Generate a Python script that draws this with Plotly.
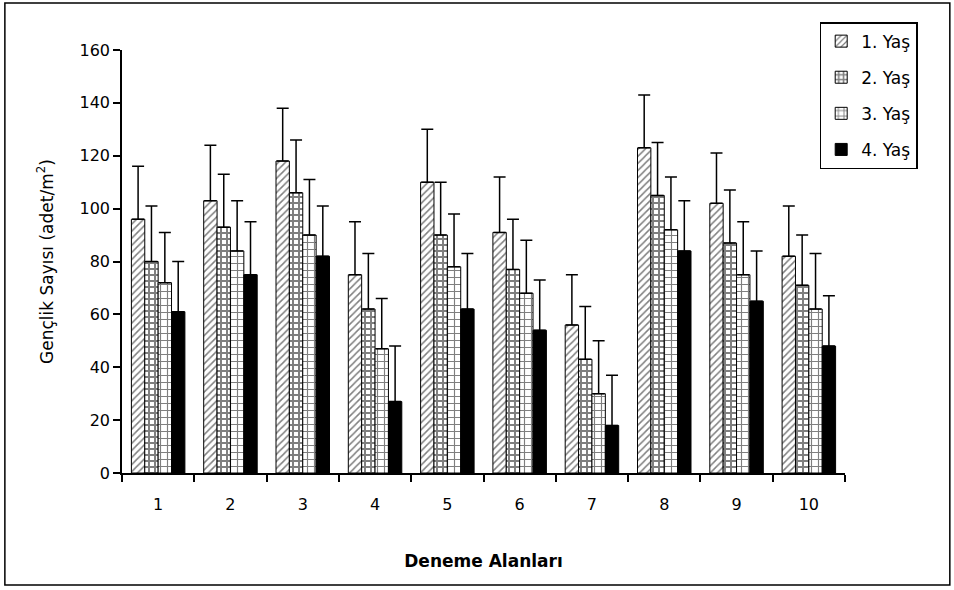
import plotly.graph_objects as go

categories = ["1", "2", "3", "4", "5", "6", "7", "8", "9", "10"]
series_names = ["1. Yaş", "2. Yaş", "3. Yaş", "4. Yaş"]
yas1 = [96, 103, 118, 75, 110, 91, 56, 123, 102, 82]
yas2 = [80, 93, 106, 62, 90, 77, 43, 105, 87, 71]
yas3 = [72, 84, 90, 47, 78, 68, 30, 92, 75, 62]
yas4 = [61, 75, 82, 27, 62, 54, 18, 84, 65, 48]
err1 = [20, 21, 20, 20, 20, 21, 19, 20, 19, 19]
err2 = [21, 20, 20, 21, 20, 19, 20, 20, 20, 19]
err3 = [19, 19, 21, 19, 20, 20, 20, 20, 20, 21]
err4 = [19, 20, 19, 21, 21, 19, 19, 19, 19, 19]
yticks = [0, 20, 40, 60, 80, 100, 120, 140, 160]

values = [yas1, yas2, yas3, yas4]
errors = [err1, err2, err3, err4]
patterns = [
    dict(shape="/", fgcolor="black", bgcolor="white", size=5, solidity=0.3),
    dict(shape="+", fgcolor="black", bgcolor="white", size=6, solidity=0.55),
    dict(shape="+", fgcolor="black", bgcolor="white", size=7, solidity=0.3),
    dict(shape="", fgcolor="black", bgcolor="black"),
]
fills = ["white", "white", "white", "black"]

FONT = "DejaVu Sans, Liberation Sans, Arial, sans-serif"

fig = go.Figure()
for i, (name, v, e, p, f) in enumerate(zip(series_names, values, errors, patterns, fills)):
    fig.add_trace(go.Bar(
        x=categories, y=v, name=name, legendgroup=f"g{i}",
        marker=dict(color=f, pattern=p, line=dict(color="black", width=1)),
        error_y=dict(type="data", array=e, arrayminus=[0] * len(e), symmetric=False,
                     color="black", thickness=1.5, width=6),
    ))

fig.update_layout(
    width=954, height=590,
    barmode="group", bargap=0.26, bargroupgap=0,
    plot_bgcolor="white", paper_bgcolor="white",
    margin=dict(l=122, r=109, t=50, b=117, autoexpand=False),
    font=dict(family=FONT, size=16, color="black"),
    showlegend=True,
    legend=dict(x=0.965, y=1.066, xanchor="left", yanchor="top",
                bordercolor="black", borderwidth=1.5, bgcolor="white",
                font=dict(size=17), tracegroupgap=11, itemwidth=30),
    xaxis=dict(type="category", showline=True, linecolor="black", linewidth=1.5,
               ticks="outside", tickson="boundaries", ticklen=7, tickcolor="black",
               tickwidth=1.5, showgrid=False, tickfont=dict(size=16),
               ticklabelstandoff=16,
               title=dict(text="<b>Deneme Alanları</b>", standoff=42, font=dict(size=17))),
    yaxis=dict(range=[0, 160], tickvals=yticks, showline=True, linecolor="black",
               linewidth=1.5, ticks="outside", ticklen=7, tickcolor="black", tickwidth=1.5,
               showgrid=False, zeroline=False, tickfont=dict(size=16),
               title=dict(text="Gençlik Sayısı (adet/m<sup>2</sup>)", standoff=22,
                          font=dict(size=17))),
    shapes=[dict(type="rect", xref="paper", yref="paper", x0=-0.162, x1=1.145,
                 y0=-0.265, y1=1.111, line=dict(color="black", width=1.5))],
)

fig.write_html("out.html", config={"displayModeBar": False},
               post_script="document.body.style.margin='0';document.body.style.overflow='hidden';")
